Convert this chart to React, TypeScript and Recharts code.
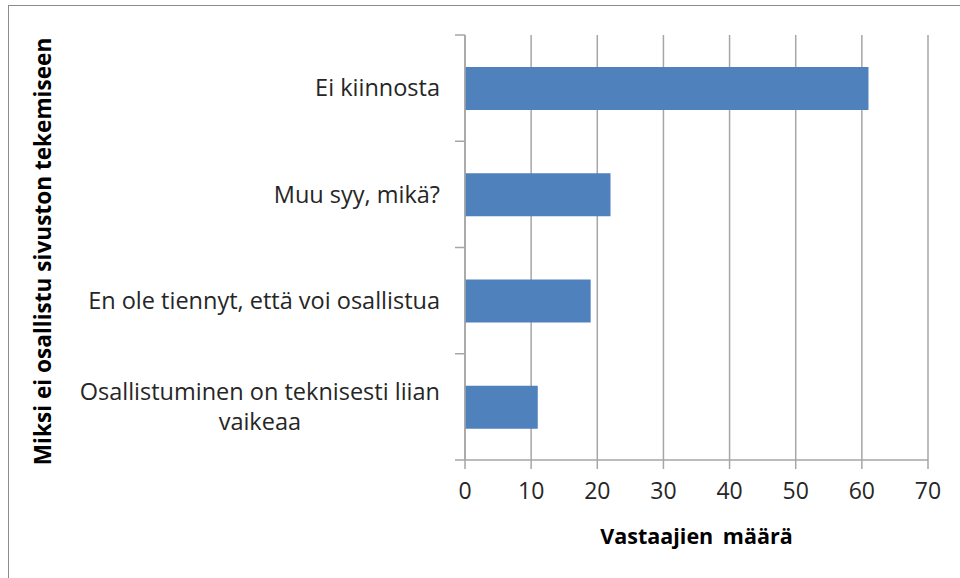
import React from "react";
import {
  BarChart,
  Bar,
  XAxis,
  YAxis,
  CartesianGrid,
} from "recharts";

const CATEGORIES = [
  "Ei kiinnosta",
  "Muu syy, mikä?",
  "En ole tiennyt, että voi osallistua",
  "Osallistuminen on teknisesti liian\nvaikeaa",
];
const VALUES = [61, 22, 19, 11];
const X_TICKS = [0, 10, 20, 30, 40, 50, 60, 70];
const X_TITLE = "Vastaajien määrä";
const Y_TITLE = "Miksi ei osallistu sivuston tekemiseen";

const W = 960;
const H = 578;
const MARGIN = { top: 35, right: 32, bottom: 0, left: 0 };
const X_AXIS_H = 118;
const Y_AXIS_W = 465;
const TICK_GAP = 25;
const FONT = "'Open Sans', Lato, sans-serif";
const FONT_SIZE = 23.5;
const GRID = "#a6a6a6";
const TEXT = "#262626";

const data = CATEGORIES.map((name, i) => ({ name, value: VALUES[i] }));

const PLOT_H = H - MARGIN.top - MARGIN.bottom - X_AXIS_H;
const BAND = PLOT_H / CATEGORIES.length;

let measureCtx: CanvasRenderingContext2D | null = null;
function textWidth(s: string): number {
  if (!measureCtx) {
    measureCtx = document.createElement("canvas").getContext("2d");
  }
  if (!measureCtx) return s.length * FONT_SIZE * 0.5;
  measureCtx.font = `${FONT_SIZE}px ${FONT}`;
  return measureCtx.measureText(s).width;
}

function CategoryTick(props: any) {
  const { x, y, payload, index } = props;
  const lines = String(payload.value).split("\n");
  const maxW = Math.max(...lines.map(textWidth));
  const cx = x - maxW / 2;
  const lineH = 30;
  const axisX = x + TICK_GAP;
  const top = y - BAND / 2;
  const isLast = index === CATEGORIES.length - 1;
  return (
    <g>
      <line x1={axisX - 10} x2={axisX} y1={top} y2={top} stroke={GRID} strokeWidth={1.5} />
      {isLast && (
        <line x1={axisX - 10} x2={axisX} y1={y + BAND / 2} y2={y + BAND / 2} stroke={GRID} strokeWidth={1.5} />
      )}
      <text
        x={cx}
        y={y}
        textAnchor="middle"
        fill={TEXT}
        fontSize={FONT_SIZE}
        fontFamily={FONT}
      >
        {lines.map((line, i) => (
          <tspan
            key={i}
            x={cx}
            dy={i === 0 ? (-(lines.length - 1) * lineH) / 2 + FONT_SIZE * 0.35 : lineH}
          >
            {line}
          </tspan>
        ))}
      </text>
    </g>
  );
}

function YTitle(props: any) {
  const vb = props.viewBox || { x: 0, y: MARGIN.top, width: Y_AXIS_W, height: PLOT_H };
  const cx = 42;
  const cy = vb.y + vb.height / 2 + 4;
  return (
    <text
      x={cx}
      y={cy}
      transform={`rotate(-90 ${cx} ${cy})`}
      textAnchor="middle"
      dominantBaseline="central"
      fontFamily={FONT}
      fontWeight={700}
      fontSize={22.6}
      fill="#000"
    >
      {Y_TITLE}
    </text>
  );
}

function XTitle(props: any) {
  const vb = props.viewBox;
  const cx = vb.x + vb.width / 2;
  return (
    <text
      x={cx}
      y={vb.y + 75}
      textAnchor="middle"
      dominantBaseline="central"
      fontFamily={FONT}
      fontWeight={700}
      fontSize={21.5}
      fill="#000"
      wordSpacing={4}
    >
      {X_TITLE}
    </text>
  );
}

export default function App() {
  return (
    <div
      style={{
        position: "fixed",
        left: 0,
        top: 0,
        width: W,
        height: H,
        overflow: "hidden",
        background: "#fff",
      }}
    >
      <div
        style={{
          position: "absolute",
          left: 8,
          top: 5,
          width: W + 20,
          height: H + 20,
          border: "1.5px solid #8c8c8c",
        }}
      />
      <div style={{ position: "absolute", left: 0, top: 0 }}>
        <BarChart
          width={W}
          height={H}
          data={data}
          layout="vertical"
          margin={MARGIN}
          barCategoryGap="30%"
        >
          <CartesianGrid horizontal={false} vertical stroke={GRID} strokeWidth={1.5} />
          <XAxis
            type="number"
            domain={[0, 70]}
            ticks={X_TICKS}
            interval={0}
            height={X_AXIS_H}
            tickSize={9}
            tickMargin={14}
            axisLine={{ stroke: GRID, strokeWidth: 1.5 }}
            tickLine={{ stroke: GRID, strokeWidth: 1.5 }}
            tick={{ fill: TEXT, fontSize: 23, fontFamily: FONT }}
            label={<XTitle />}
          />
          <YAxis
            type="category"
            dataKey="name"
            width={Y_AXIS_W}
            interval={0}
            tickSize={0}
            tickMargin={TICK_GAP}
            tickLine={false}
            axisLine={{ stroke: GRID, strokeWidth: 1.5 }}
            tick={<CategoryTick />}
            label={<YTitle />}
          />
          <Bar dataKey="value" fill="#4f81bd" isAnimationActive={false} />
        </BarChart>
      </div>
    </div>
  );
}
